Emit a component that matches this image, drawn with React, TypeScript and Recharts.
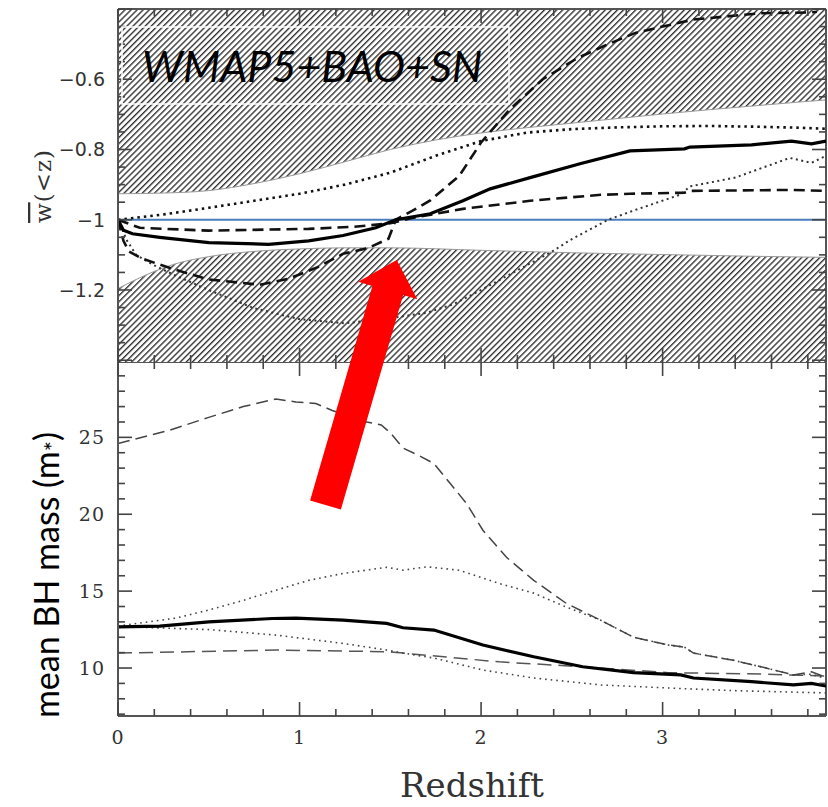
import { Area, ComposedChart, Line, ReferenceLine, XAxis, YAxis } from "recharts";

// redshift ticks
const X_TICKS = [0, 0.2, 0.4, 0.6, 0.8, 1, 1.2, 1.4, 1.6, 1.8, 2, 2.2, 2.4, 2.6, 2.8, 3, 3.2, 3.4, 3.6, 3.8];
const X_MAJOR = [0, 1, 2, 3];

// top panel: w(<z)
const TOP_Y_TICKS = [
  -1.4, -1.35, -1.3, -1.25, -1.2, -1.15, -1.1, -1.05, -1, -0.95, -0.9, -0.85, -0.8, -0.75, -0.7, -0.65, -0.6,
  -0.55, -0.5, -0.45, -0.4,
];
const TOP_Y_MAJOR = [-1.4, -1.2, -1, -0.8, -0.6, -0.4];
const TOP_Y_LABELS = [-1.2, -1, -0.8, -0.6];

// bottom panel: mean BH mass
const BOT_Y_TICKS = [7, 8, 9, 10, 11, 12, 13, 14, 15, 16, 17, 18, 19, 20, 21, 22, 23, 24, 25, 26, 27, 28, 29];
const BOT_Y_MAJOR = [10, 15, 20, 25];

// excluded regions (hatched)
const UPPER_BOUND: [number, number][] = [
  [0, -0.926], [0.25, -0.924], [0.5, -0.917], [0.75, -0.897], [1.0, -0.869], [1.25, -0.835], [1.5, -0.8],
  [1.75, -0.773], [2.0, -0.753], [2.25, -0.738], [2.5, -0.725], [2.75, -0.712], [3.0, -0.699], [3.25, -0.687],
  [3.5, -0.676], [3.75, -0.665], [3.9, -0.659],
];
const LOWER_BOUND: [number, number][] = [
  [0, -1.196], [0.1, -1.17], [0.2, -1.147], [0.3, -1.128], [0.5, -1.105], [0.75, -1.09], [1.0, -1.083],
  [1.25, -1.08], [1.5, -1.08], [2.0, -1.087], [2.5, -1.094], [3.0, -1.099], [3.5, -1.104], [3.9, -1.107],
];

const TOP_SOLID: [number, number][] = [
  [0, -1.0], [0.03, -1.03], [0.08, -1.04], [0.23, -1.05], [0.5, -1.065], [0.83, -1.07], [1.05, -1.06],
  [1.24, -1.045], [1.42, -1.023], [1.53, -1.0], [1.72, -0.983], [1.9, -0.946], [2.05, -0.912], [2.27, -0.88],
  [2.55, -0.84], [2.82, -0.804], [3.12, -0.798], [3.15, -0.793], [3.49, -0.787], [3.71, -0.776], [3.82, -0.784],
  [3.9, -0.776],
];
const TOP_DOT_UP: [number, number][] = [
  [0, -1.0], [0.25, -0.985], [0.5, -0.966], [0.75, -0.946], [1.0, -0.926], [1.25, -0.9], [1.5, -0.866],
  [1.75, -0.818], [2.0, -0.776], [2.25, -0.752], [2.5, -0.742], [2.75, -0.737], [3.0, -0.734], [3.25, -0.733],
  [3.5, -0.735], [3.75, -0.738], [3.9, -0.741],
];
const TOP_DASH_UP: [number, number][] = [
  [0, -1.0], [0.12, -1.023], [0.5, -1.031], [1.05, -1.026], [1.3, -1.02], [1.5, -1.01], [1.62, -0.995],
  [1.9, -0.969], [2.27, -0.946], [2.66, -0.929], [2.82, -0.926], [3.12, -0.923], [3.15, -0.918], [3.71, -0.915],
  [3.9, -0.918],
];
const TOP_DASH_LOW: [number, number][] = [
  [0, -1.0], [0.03, -1.06], [0.06, -1.09], [0.13, -1.11], [0.3, -1.14], [0.5, -1.17], [0.78, -1.185],
  [0.94, -1.168], [1.1, -1.135], [1.24, -1.097], [1.38, -1.08], [1.49, -1.054], [1.53, -1.0], [1.62, -0.975],
  [1.72, -0.945], [1.88, -0.875], [2.0, -0.78], [2.16, -0.685], [2.34, -0.6], [2.53, -0.54], [2.7, -0.5],
  [2.85, -0.468], [3.0, -0.45], [3.17, -0.43], [3.54, -0.412], [3.8, -0.41], [3.85, -0.408],
];
const TOP_DOT_LOW: [number, number][] = [
  [0, -1.0], [0.05, -1.06], [0.1, -1.1], [0.2, -1.13], [0.3, -1.155], [0.5, -1.2], [0.75, -1.252], [1.0, -1.283],
  [1.25, -1.295], [1.5, -1.28], [1.7, -1.265], [1.85, -1.24], [2.0, -1.2], [2.25, -1.13], [2.38, -1.094],
  [2.5, -1.055], [2.7, -1.0], [2.85, -0.972], [3.1, -0.928], [3.15, -0.905], [3.4, -0.88], [3.7, -0.824],
  [3.82, -0.838], [3.9, -0.818],
];

const BOT_SOLID: [number, number][] = [
  [0, 12.68], [0.23, 12.73], [0.5, 13.0], [0.85, 13.22], [0.98, 13.24], [1.24, 13.12], [1.48, 12.9], [1.57, 12.62],
  [1.74, 12.47], [2.01, 11.5], [2.29, 10.73], [2.56, 10.08], [2.84, 9.7], [3.1, 9.55], [3.17, 9.35], [3.49, 9.11],
  [3.72, 8.9], [3.82, 9.0], [3.9, 8.83],
];
const BOT_DASH_UP: [number, number][] = [
  [0, 24.6], [0.28, 25.45], [0.5, 26.3], [0.69, 27.0], [0.87, 27.5], [0.98, 27.3], [1.09, 27.2], [1.18, 26.75],
  [1.37, 26.0], [1.45, 25.8], [1.5, 25.3], [1.57, 24.3], [1.66, 23.8], [1.74, 23.3], [1.83, 22.0], [1.92, 20.7],
  [2.01, 18.96], [2.14, 17.2], [2.29, 15.7], [2.47, 14.2], [2.66, 13.1], [2.84, 12.0], [3.03, 11.5], [3.12, 11.36],
  [3.17, 10.97], [3.39, 10.5], [3.57, 10.0], [3.72, 9.55], [3.82, 9.75], [3.9, 9.4],
];
const BOT_DOT_UP: [number, number][] = [
  [0, 12.73], [0.32, 13.25], [0.5, 13.77], [0.69, 14.4], [0.87, 15.06], [1.05, 15.7], [1.24, 16.15], [1.48, 16.55],
  [1.57, 16.36], [1.7, 16.58], [1.88, 16.36], [2.1, 15.5], [2.29, 14.87], [2.47, 13.96], [2.66, 13.1], [2.84, 12.0],
  [3.03, 11.5], [3.12, 11.36], [3.17, 10.97], [3.39, 10.5], [3.57, 10.0], [3.72, 9.55], [3.82, 9.6], [3.9, 9.3],
];
const BOT_DOT_LOW: [number, number][] = [
  [0, 12.7], [0.5, 12.5], [0.87, 12.14], [1.24, 11.6], [1.48, 11.17], [1.57, 10.97], [1.74, 10.65], [2.01, 9.87],
  [2.29, 9.35], [2.66, 8.9], [3.03, 8.7], [3.39, 8.53], [3.9, 8.38],
];
const BOT_DASH_LOW: [number, number][] = [
  [0, 10.97], [0.87, 11.17], [1.48, 11.06], [1.57, 10.97], [2.1, 10.4], [2.56, 10.08], [3.03, 9.7], [3.57, 9.6],
  [3.9, 9.48],
];

const pts = (a: [number, number][]) => a.map(([z, v]) => ({ z, v }));

const W = 828;
const TOP_H = 362;
const BOT_H = 807 - TOP_H;
const X_DOMAIN = [0, 3.9];
const TOP_DOMAIN = [-1.405, -0.4];
const BOT_DOMAIN = [6.88, 29.9];

// plot boxes (page pixels) that follow from the chart sizes and margins below
const PLOT_LEFT = 118;
const PLOT_RIGHT = 826;
const TOP_BOX = { top: 9, bottom: 362 };
const BOT_BOX = { top: 362, bottom: 716 };

const FRAME = { stroke: "#555", strokeWidth: 2 };
const MAJOR_PX = 14;
const MINOR_PX = 7;

const near = (list: number[], v: number) => list.some((m) => Math.abs(m - v) < 1e-6);
const fmt = (v: number) => (v < 0 ? "\u2212" : "") + String(Math.abs(v));

const NoTick = () => <g />;

function labelTick(side: "left" | "bottom", labels: number[], font: any) {
  return function Tick(props: any) {
    const { x, y, payload } = props;
    const v = payload.value;
    if (!near(labels, v)) return <g />;
    if (side === "left")
      return (
        <text x={x - 13} y={y} textAnchor="end" dominantBaseline="central" fill="#333" {...font}>
          {fmt(v)}
        </text>
      );
    return (
      <text x={x} y={y + 21} textAnchor="middle" dominantBaseline="central" fill="#333" {...font}>
        {fmt(v)}
      </text>
    );
  };
}

// inward tick marks on all four sides of one panel
function PanelTicks({ box, domain, yTicks, yMajor }: any) {
  const [x0, x1] = X_DOMAIN;
  const [y0, y1] = domain;
  const px = (z: number) => PLOT_LEFT + ((z - x0) / (x1 - x0)) * (PLOT_RIGHT - PLOT_LEFT);
  const py = (v: number) => box.bottom - ((v - y0) / (y1 - y0)) * (box.bottom - box.top);
  const s = { stroke: "#444", strokeWidth: 1.6 };
  return (
    <g>
      {X_TICKS.map((t) => {
        const len = near(X_MAJOR, t) ? MAJOR_PX : MINOR_PX;
        const x = px(t);
        return (
          <g key={`x${t}`}>
            <line x1={x} y1={box.bottom} x2={x} y2={box.bottom - len} {...s} />
            <line x1={x} y1={box.top} x2={x} y2={box.top + len} {...s} />
          </g>
        );
      })}
      {yTicks.map((t: number) => {
        const len = near(yMajor, t) ? MAJOR_PX : MINOR_PX;
        const y = py(t);
        return (
          <g key={`y${t}`}>
            <line x1={PLOT_LEFT} y1={y} x2={PLOT_LEFT + len} y2={y} {...s} />
            <line x1={PLOT_RIGHT} y1={y} x2={PLOT_RIGHT - len} y2={y} {...s} />
          </g>
        );
      })}
    </g>
  );
}

const sansTick = { fontFamily: "DejaVu Sans", fontSize: 19 };
const serifTick = { fontFamily: "DejaVu Serif", fontSize: 19, letterSpacing: 1 };

const lineProps = { xAxisId: "b", yAxisId: "l", dataKey: "v", dot: false, activeDot: false, isAnimationActive: false };

function TopPanel() {
  return (
    <ComposedChart width={W} height={TOP_H} margin={{ top: 9, right: 2, left: 0, bottom: 0 }}>
      <XAxis
        xAxisId="b"
        type="number"
        dataKey="z"
        domain={X_DOMAIN}
        allowDataOverflow
        ticks={X_MAJOR}
        interval={0}
        height={0}
        tickLine={false}
        tick={NoTick}
        axisLine={FRAME}
      />
      <YAxis
        yAxisId="l"
        type="number"
        domain={TOP_DOMAIN}
        allowDataOverflow
        ticks={TOP_Y_TICKS}
        interval={0}
        width={118}
        tickSize={0}
        tickMargin={0}
        tickLine={false}
        tick={labelTick("left", TOP_Y_LABELS, sansTick)}
        axisLine={FRAME}
      />
      <Area
        {...lineProps}
        data={pts(UPPER_BOUND)}
        baseValue="dataMax"
        type="monotone"
        fill="url(#hatch)"
        fillOpacity={1}
        stroke="#999"
        strokeWidth={1}
      />
      <Area
        {...lineProps}
        data={pts(LOWER_BOUND)}
        baseValue="dataMin"
        type="monotone"
        fill="url(#hatch)"
        fillOpacity={1}
        stroke="#999"
        strokeWidth={1}
      />
      <ReferenceLine xAxisId="b" yAxisId="l" y={-1} stroke="#4a7ebb" strokeWidth={2} />
      <ReferenceLine xAxisId="b" yAxisId="l" x={X_DOMAIN[1]} {...FRAME} />
      <ReferenceLine xAxisId="b" yAxisId="l" y={TOP_DOMAIN[1]} {...FRAME} />
      <Line {...lineProps} data={pts(TOP_DOT_LOW)} stroke="#333" strokeWidth={2} strokeDasharray="2 3.5" />
      <Line {...lineProps} data={pts(TOP_DOT_UP)} stroke="#111" strokeWidth={2.6} strokeDasharray="2.5 4" />
      <Line {...lineProps} data={pts(TOP_DASH_UP)} stroke="#111" strokeWidth={2.6} strokeDasharray="11 6" />
      <Line {...lineProps} data={pts(TOP_DASH_LOW)} stroke="#111" strokeWidth={2.6} strokeDasharray="11 6" />
      <Line {...lineProps} data={pts(TOP_SOLID)} stroke="#000" strokeWidth={3.2} />
    </ComposedChart>
  );
}

function BottomPanel() {
  return (
    <ComposedChart width={W} height={BOT_H} margin={{ top: 0, right: 2, left: 0, bottom: 0 }}>
      <XAxis
        xAxisId="b"
        type="number"
        dataKey="z"
        domain={X_DOMAIN}
        allowDataOverflow
        ticks={X_MAJOR}
        interval={0}
        height={91}
        tickSize={0}
        tickMargin={0}
        tickLine={false}
        tick={labelTick("bottom", X_MAJOR, serifTick)}
        axisLine={FRAME}
      />
      <YAxis
        yAxisId="l"
        type="number"
        domain={BOT_DOMAIN}
        allowDataOverflow
        ticks={BOT_Y_MAJOR}
        interval={0}
        width={118}
        tickSize={0}
        tickMargin={0}
        tickLine={false}
        tick={labelTick("left", BOT_Y_MAJOR, serifTick)}
        axisLine={FRAME}
      />
      <ReferenceLine xAxisId="b" yAxisId="l" x={X_DOMAIN[1]} {...FRAME} />
      <ReferenceLine xAxisId="b" yAxisId="l" y={BOT_DOMAIN[1]} {...FRAME} />
      <Line {...lineProps} data={pts(BOT_DASH_LOW)} stroke="#555" strokeWidth={1.5} strokeDasharray="14 7" />
      <Line {...lineProps} data={pts(BOT_DOT_LOW)} stroke="#444" strokeWidth={1.6} strokeDasharray="1.6 4" />
      <Line {...lineProps} data={pts(BOT_DOT_UP)} stroke="#444" strokeWidth={1.6} strokeDasharray="1.6 4" />
      <Line {...lineProps} data={pts(BOT_DASH_UP)} stroke="#444" strokeWidth={1.5} strokeDasharray="12 6" />
      <Line {...lineProps} data={pts(BOT_SOLID)} stroke="#000" strokeWidth={3.2} />
    </ComposedChart>
  );
}

export default function App() {
  return (
    <div style={{ position: "absolute", left: 0, top: 0, width: W, height: 807, background: "#fff" }}>
      <svg width={0} height={0} style={{ position: "absolute" }}>
        <defs>
          <pattern id="hatch" patternUnits="userSpaceOnUse" width={4.3} height={4.3} patternTransform="rotate(45)">
            <rect width={4.3} height={4.3} fill="#fff" />
            <line x1={0.7} y1={0} x2={0.7} y2={4.3} stroke="#262626" strokeWidth={1.3} />
          </pattern>
        </defs>
      </svg>
      <div style={{ position: "absolute", left: 0, top: 0 }}>
        <TopPanel />
      </div>
      <div style={{ position: "absolute", left: 0, top: TOP_H }}>
        <BottomPanel />
      </div>
      <svg width={W} height={807} style={{ position: "absolute", left: 0, top: 0, pointerEvents: "none" }}>
        <PanelTicks box={TOP_BOX} domain={TOP_DOMAIN} yTicks={TOP_Y_TICKS} yMajor={TOP_Y_MAJOR} />
        <PanelTicks box={BOT_BOX} domain={BOT_DOMAIN} yTicks={BOT_Y_TICKS} yMajor={BOT_Y_MAJOR} />
        <rect x={122} y={27} width={387} height={77} fill="none" stroke="#fff" strokeWidth={1.5} />
        <text x={142} y={82} fontFamily="Lato" fontStyle="italic" fontSize={43} fill="#000">
          WMAP5+BAO+SN
        </text>
        <text
          x={43}
          y={186}
          transform="rotate(-90 43 186)"
          textAnchor="middle"
          dominantBaseline="central"
          fontFamily="DejaVu Serif"
          fontSize={23}
          letterSpacing={1}
          fill="#333"
        >
          <tspan textDecoration="overline">w</tspan>
          <tspan>(&lt;z)</tspan>
        </text>
        <text
          x={45}
          y={575}
          transform="rotate(-90 45 575)"
          textAnchor="middle"
          dominantBaseline="central"
          fontFamily="Lato"
          fontSize={34}
          fill="#000"
        >
          mean BH mass (m<tspan fontSize={24} dy={6}>*</tspan>
          <tspan dy={-6}>)</tspan>
        </text>
        <text x={472} y={797} textAnchor="middle" fontFamily="DejaVu Serif" fontSize={34} fill="#333">
          Redshift
        </text>
        <polygon
          points="310.1,500.5 372.4,286.1 358.3,281.7 396.7,260 417.3,299.3 403.2,295.1 340.9,509.5"
          fill="#ff0000"
        />
      </svg>
    </div>
  );
}
